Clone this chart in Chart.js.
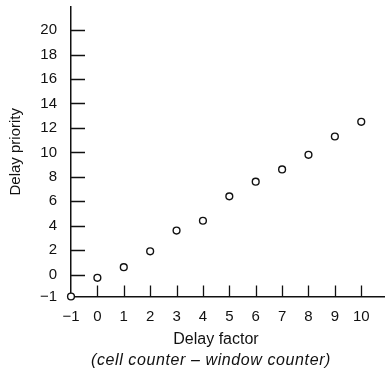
<!DOCTYPE html>
<html>
<head>
<meta charset="utf-8">
<script src="https://cdn.jsdelivr.net/npm/chart.js@4.4.1/dist/chart.umd.min.js"></script>
<style>
    html, body { margin: 0; padding: 0; background: #fff; }
</style>
</head>
<body>
<canvas id="delayChart" width="385" height="376"></canvas>
<script>
// ----------- DATA -----------
const delayFactor = [-1, 0, 1, 2, 3, 4, 5, 6, 7, 8, 9, 10];
const delayPriority = [-1, -0.15, 0.6, 1.9, 3.6, 4.4, 6.4, 7.6, 8.6, 9.8, 11.3, 12.5];
const xTickValues = [-1, 0, 1, 2, 3, 4, 5, 6, 7, 8, 9, 10];
const yTickValues = [-1, 0, 2, 4, 6, 8, 10, 12, 14, 16, 18, 20];
const xTitle = 'Delay factor';
const xSubTitle = '(cell counter – window counter)';
const yTitle = 'Delay priority';

// the -1..0 step on the y axis is drawn about as tall as a 2-unit step
const belowZeroStretch = 1.8;
const toAxis = v => (v < 0 ? v * belowZeroStretch : v);
const fmt = v => (v < 0 ? '−' + Math.abs(v) : String(v));

const ink = '#111';
const fontFamily = '"Liberation Sans", Arial, Helvetica, sans-serif';

// ----------- INWARD TICK MARKS + X CAPTIONS -----------
const axisExtras = {
    id: 'axisExtras',
    beforeDatasetsDraw(chart) {
        const { ctx, chartArea, scales } = chart;
        ctx.save();
        ctx.strokeStyle = ink;
        ctx.lineWidth = 1.3;
        ctx.beginPath();
        xTickValues.forEach(v => {
            if (v === xTickValues[0]) return;
            const px = Math.round(scales.x.getPixelForValue(v)) + 0.5;
            ctx.moveTo(px, chartArea.bottom);
            ctx.lineTo(px, chartArea.bottom - 11);
        });
        yTickValues.forEach(v => {
            if (v === yTickValues[0]) return;
            const py = Math.round(scales.y.getPixelForValue(toAxis(v))) + 0.5;
            ctx.moveTo(chartArea.left, py);
            ctx.lineTo(chartArea.left + 14, py);
        });
        ctx.stroke();
        ctx.restore();
    },
    afterDraw(chart) {
        // the two caption lines sit a bit left of the plot centre
        const { ctx, chartArea } = chart;
        ctx.save();
        ctx.fillStyle = ink;
        ctx.textAlign = 'center';
        ctx.textBaseline = 'middle';
        ctx.font = '16px ' + fontFamily;
        ctx.fillText(xTitle, chartArea.left + 145, chartArea.bottom + 43);
        ctx.font = 'italic 16px ' + fontFamily;
        ctx.letterSpacing = '0.6px';
        ctx.fillText(xSubTitle, chartArea.left + 140, chartArea.bottom + 64);
        ctx.restore();
    }
};

// ----------- CHART -----------
const ctx = document.getElementById('delayChart');
const delayChart = new Chart(ctx, {
    type: 'scatter',
    data: {
        datasets: [{
            label: yTitle,
            data: delayFactor.map((x, i) => ({ x: x, y: toAxis(delayPriority[i]) })),
            pointStyle: 'circle',
            pointRadius: 3.4,
            pointBorderWidth: 1.4,
            borderColor: ink,
            backgroundColor: '#fff',
            clip: false
        }]
    },
    options: {
        responsive: false,
        animation: false,
        devicePixelRatio: 1,
        layout: { autoPadding: false, padding: { top: 7, right: 0, bottom: 0, left: 0 } },
        plugins: {
            legend: { display: false },
            tooltip: { enabled: false }
        },
        scales: {
            x: {
                type: 'linear',
                min: -1,
                max: 10.9,
                afterBuildTicks: s => { s.ticks = xTickValues.map(v => ({ value: v })); },
                afterFit: s => { s.height = 79.5; s.paddingLeft = 0; s.paddingRight = 0; },
                border: { display: true, color: ink, width: 1.5 },
                grid: { display: true, drawOnChartArea: false, drawTicks: false },
                ticks: {
                    color: ink,
                    padding: 11,
                    font: { family: fontFamily, size: 15 },
                    callback: v => fmt(v)
                }
            },
            y: {
                type: 'linear',
                min: toAxis(-1),
                max: 21.9,
                afterBuildTicks: s => { s.ticks = yTickValues.map(v => ({ value: toAxis(v) })); },
                afterFit: s => { s.width = 71; s.paddingTop = 0; s.paddingBottom = 0; },
                border: { display: true, color: ink, width: 1.5 },
                grid: { display: true, drawOnChartArea: false, drawTicks: false },
                ticks: {
                    color: ink,
                    padding: 14,
                    font: { family: fontFamily, size: 15 },
                    callback: (v, i) => fmt(yTickValues[i])
                },
                title: {
                    display: true,
                    text: yTitle,
                    color: ink,
                    font: { family: fontFamily, size: 15 },
                    padding: { top: 7, bottom: 0 }
                }
            }
        }
    },
    plugins: [axisExtras]
});
</script>
</body>
</html>
